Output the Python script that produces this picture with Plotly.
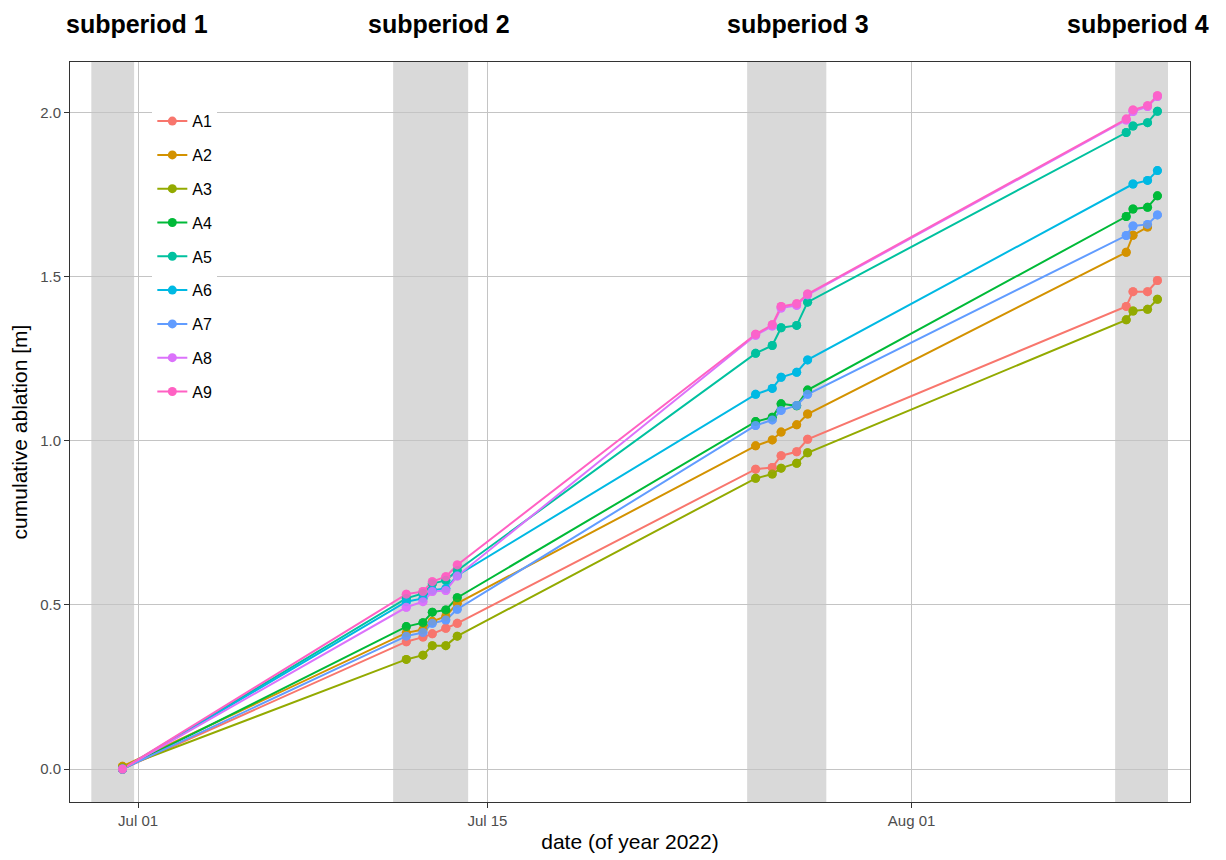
import plotly.graph_objects as go

times = [
    "2022-06-30 09:00",
    "2022-07-11 18:00", "2022-07-12 10:00", "2022-07-12 19:00", "2022-07-13 08:00", "2022-07-13 19:00",
    "2022-07-25 18:00", "2022-07-26 10:00", "2022-07-26 18:30", "2022-07-27 09:30", "2022-07-27 20:00",
    "2022-08-09 14:30", "2022-08-09 21:00", "2022-08-10 11:00", "2022-08-10 20:30",
]

A1 = [0.000, 0.388, 0.402, 0.412, 0.429, 0.444, 0.914, 0.919, 0.955, 0.967, 1.005, 1.410, 1.455, 1.455, 1.489]
A2 = [0.008, 0.415, 0.425, 0.450, 0.465, 0.505, 0.985, 1.003, 1.027, 1.049, 1.082, 1.575, 1.627, 1.652, None]
A3 = [0.005, 0.334, 0.347, 0.376, 0.376, 0.405, 0.886, 0.899, 0.917, 0.932, 0.964, 1.369, 1.396, 1.401, 1.432]
A4 = [0.000, 0.434, 0.446, 0.478, 0.485, 0.522, 1.059, 1.072, 1.113, 1.107, 1.155, 1.684, 1.707, 1.712, 1.747]
A5 = [0.000, 0.520, 0.535, 0.565, 0.575, 0.605, 1.267, 1.291, 1.345, 1.352, 1.423, 1.940, 1.960, 1.970, 2.005]
A6 = [0.000, 0.510, 0.520, 0.545, 0.550, 0.590, 1.142, 1.160, 1.194, 1.209, 1.247, None, 1.783, 1.794, 1.824]
A7 = [0.000, 0.405, 0.416, 0.444, 0.454, 0.487, 1.047, 1.064, 1.093, 1.108, 1.142, 1.626, 1.655, 1.660, 1.689]
A8 = [0.000, 0.493, 0.510, 0.541, 0.544, 0.588, 1.322, 1.350, 1.405, 1.413, 1.445, 1.978, 2.004, 2.019, 2.050]
A9 = [0.000, 0.533, 0.541, 0.571, 0.586, 0.622, 1.325, 1.354, 1.410, 1.418, 1.448, 1.981, 2.009, 2.022, 2.052]

series_names = ["A1", "A2", "A3", "A4", "A5", "A6", "A7", "A8", "A9"]
series_values = [A1, A2, A3, A4, A5, A6, A7, A8, A9]
colors = ["#F8766D", "#D39200", "#93AA00", "#00BA38", "#00C19F",
          "#00B9E3", "#619CFF", "#DB72FB", "#FF61C3"]

subperiod_labels = ["subperiod 1", "subperiod 2", "subperiod 3", "subperiod 4"]
subperiod_starts = ["2022-06-29 03:00", "2022-07-11 05:20", "2022-07-25 09:50", "2022-08-09 03:50"]
subperiod_ends = ["2022-06-30 20:10", "2022-07-14 05:30", "2022-07-28 14:00", "2022-08-11 06:40"]
subperiod_label_pos = ["2022-06-30 22:30", "2022-07-13 01:30", "2022-07-27 10:50", "2022-08-10 01:30"]

tick_vals = ["2022-07-01", "2022-07-15", "2022-08-01"]
tick_text = ["Jul 01", "Jul 15", "Aug 01"]

FONT = "Liberation Sans, Arial, sans-serif"

fig = go.Figure()

for name, vals, col in zip(series_names, series_values, colors):
    fig.add_trace(go.Scatter(
        x=times, y=vals, name=name, mode="lines+markers",
        line=dict(color=col, width=2),
        marker=dict(color=col, size=9),
        connectgaps=True, legendgroup=name,
    ))
for name, vals, col in zip(series_names, series_values, colors):
    fig.add_trace(go.Scatter(
        x=times, y=vals, name=name, mode="markers",
        marker=dict(color=col, size=9, opacity=0.85),
        showlegend=False, legendgroup=name, hoverinfo="skip",
    ))

for s, e in zip(subperiod_starts, subperiod_ends):
    fig.add_shape(type="rect", xref="x", yref="paper", x0=s, x1=e, y0=0, y1=1,
                  fillcolor="#d9d9d9", line=dict(width=0), layer="between")

for lab, pos in zip(subperiod_labels, subperiod_label_pos):
    fig.add_annotation(x=pos, xref="x", y=1.0, yref="paper", yshift=38,
                       text="<b>" + lab + "</b>", showarrow=False,
                       font=dict(family=FONT, size=25, color="black"),
                       xanchor="center", yanchor="middle", borderpad=0)

fig.update_layout(
    width=1226, height=860,
    margin=dict(l=62, r=44, t=54, b=66),
    paper_bgcolor="white", plot_bgcolor="white",
    font=dict(family=FONT, color="black"),
    showlegend=True,
    legend=dict(x=0.0735, y=0.943, xanchor="left", yanchor="top",
                bgcolor="white", borderwidth=0,
                font=dict(family=FONT, size=16, color="black"),
                tracegroupgap=10, itemwidth=30),
    xaxis=dict(
        type="date", automargin=False,
        range=["2022-06-28 06:30", "2022-08-12 03:50"],
        tickvals=tick_vals, ticktext=tick_text,
        showgrid=True, gridcolor="#c4c4c4", gridwidth=1,
        ticks="outside", ticklen=5, tickcolor="#333333", tickwidth=1,
        tickfont=dict(family=FONT, size=15, color="#4d4d4d"),
        showline=True, linecolor="#333333", linewidth=1, mirror=True,
        zeroline=False,
        title=dict(text="date (of year 2022)", font=dict(family=FONT, size=21, color="black"), standoff=6),
    ),
    yaxis=dict(
        automargin=False,
        range=[-0.1006, 2.155],
        tickvals=[0, 0.5, 1.0, 1.5, 2.0], ticktext=["0.0", "0.5", "1.0", "1.5", "2.0"],
        showgrid=True, gridcolor="#c4c4c4", gridwidth=1,
        ticks="outside", ticklen=5, tickcolor="#333333", tickwidth=1,
        tickfont=dict(family=FONT, size=15, color="#4d4d4d"),
        showline=True, linecolor="#333333", linewidth=1, mirror=True,
        zeroline=False,
        title=dict(text="cumulative ablation [m]", font=dict(family=FONT, size=21, color="black"), standoff=6),
    ),
)

fig.write_html("out.html")
